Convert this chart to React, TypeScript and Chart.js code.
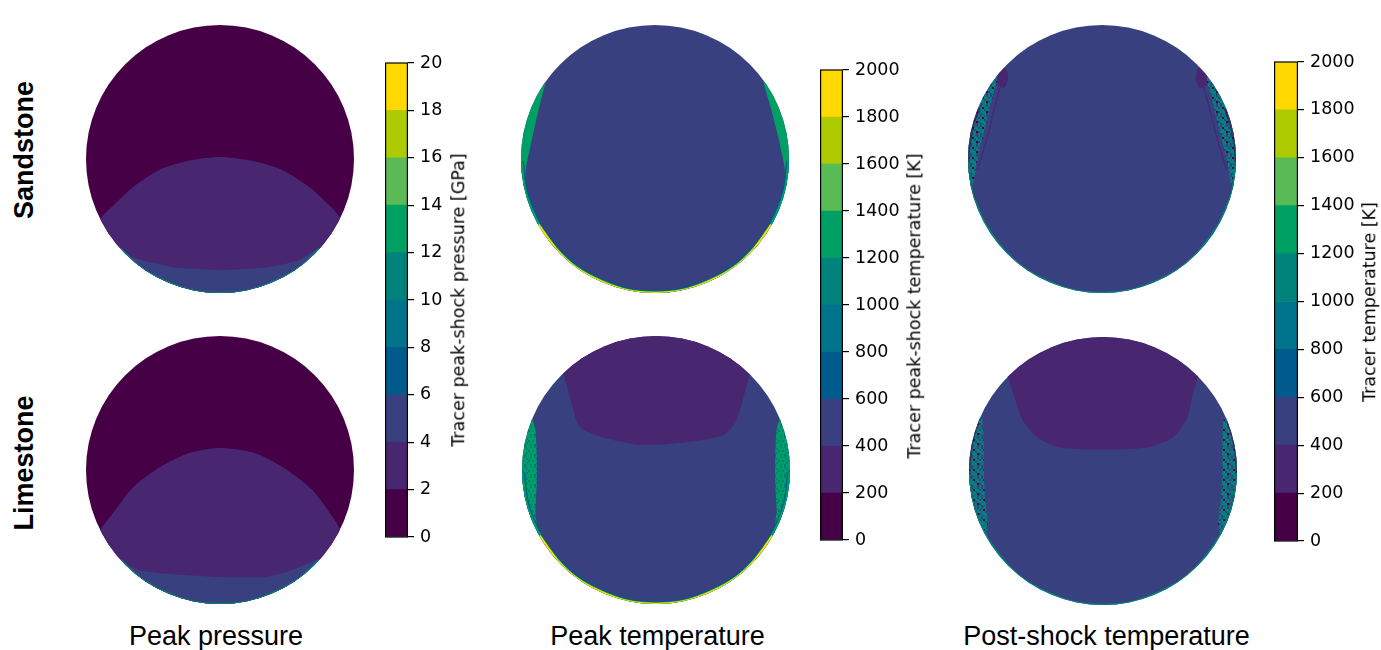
import React, { useEffect, useRef } from 'react';
import { Chart, registerables } from 'chart.js';

Chart.register(...registerables);

type Pt = [number, number];

// ---------- colour levels (discrete viridis as in the figure) ----------
const levelColors = ['#460046', '#482670', '#384080', '#005a8c', '#00748a', '#00837a', '#00a064', '#5abb56', '#aeca00', '#ffd900'];
const pressureLevels = [0, 2, 4, 6, 8, 10, 12, 14, 16, 18, 20];
const temperatureLevels = [0, 200, 400, 600, 800, 1000, 1200, 1400, 1600, 1800, 2000];

const rowLabels = ['Sandstone', 'Limestone'];
const columnTitles = ['Peak pressure', 'Peak temperature', 'Post-shock temperature'];
const colorbarLabels = ['Tracer peak-shock pressure [GPa]', 'Tracer peak-shock temperature [K]', 'Tracer temperature [K]'];

// ---------- region boundaries (normalised disk coords, radius = 1) ----------
const fullDomain: Pt[] = [[-1.2, -1.2], [-1.2, 1.2], [1.2, 1.2], [1.2, -1.2]];
const lowerArc: Pt[] = [[-1, -0.02], [-0.98, -0.2], [-0.95, -0.31], [-0.87, -0.49], [-0.74, -0.67], [-0.59, -0.81], [-0.41, -0.91], [-0.21, -0.98], [0, -1], [0.21, -0.98], [0.41, -0.91], [0.59, -0.81], [0.74, -0.67], [0.87, -0.49], [0.95, -0.31], [0.98, -0.2], [1, -0.02]];
const bottomArc: Pt[] = [[-0.87, -0.49], [-0.74, -0.67], [-0.59, -0.81], [-0.41, -0.91], [-0.21, -0.98], [0, -1], [0.21, -0.98], [0.41, -0.91], [0.59, -0.81], [0.74, -0.67], [0.87, -0.49]];
const pressureRim: Pt[] = [[-0.74, -0.67], [-0.59, -0.81], [-0.41, -0.91], [-0.21, -0.98], [0, -1], [0.21, -0.98], [0.41, -0.91], [0.59, -0.81], [0.74, -0.67]];

// Peak pressure – sandstone
const ssPressureDome: Pt[] = [[-0.95, -0.55], [-0.88, -0.43], [-0.82, -0.37], [-0.65, -0.21], [-0.45, -0.08], [-0.22, -0.01], [0, 0.015], [0.22, -0.01], [0.46, -0.08], [0.68, -0.22], [0.84, -0.37], [0.89, -0.43], [0.95, -0.55], [0.95, -1.1], [-0.95, -1.1]];
const ssPressureBand: Pt[] = [[-0.8, -0.7], [-0.72, -0.71], [-0.6, -0.75], [-0.48, -0.78], [-0.35, -0.81], [-0.15, -0.82], [0, -0.83], [0.2, -0.82], [0.35, -0.81], [0.5, -0.78], [0.6, -0.75], [0.76, -0.65], [0.85, -0.6], [0.85, -1.1], [-0.8, -1.1]];
// Peak pressure – limestone
const lsPressureDome: Pt[] = [[-0.95, -0.55], [-0.88, -0.425], [-0.82, -0.35], [-0.65, -0.13], [-0.45, 0.02], [-0.22, 0.13], [0, 0.165], [0.25, 0.13], [0.47, 0.02], [0.69, -0.15], [0.84, -0.35], [0.89, -0.43], [0.95, -0.55], [0.95, -1.1], [-0.95, -1.1]];
const lsPressureBand: Pt[] = [[-0.8, -0.68], [-0.72, -0.7], [-0.6, -0.75], [-0.45, -0.77], [-0.32, -0.78], [0, -0.8], [0.35, -0.8], [0.5, -0.76], [0.6, -0.72], [0.75, -0.66], [0.85, -0.6], [0.85, -1.1], [-0.8, -1.1]];

// Peak temperature – sandstone
const ssPeakTempLeft: Pt[] = [[-0.8, 0.65], [-0.817, 0.571], [-0.87, 0.36], [-0.92, 0.14], [-0.96, -0.05], [-0.985, -0.2], [-1.1, -0.2], [-1.1, 0.65]];
const ssPeakTempRight: Pt[] = [[0.8, 0.65], [0.81, 0.571], [0.87, 0.36], [0.925, 0.14], [0.965, -0.05], [0.985, -0.2], [1.1, -0.2], [1.1, 0.65]];
// Peak temperature – limestone
const lsPeakTempTop: Pt[] = [[-0.72, 0.75], [-0.69, 0.71], [-0.63, 0.5], [-0.57, 0.32], [-0.42, 0.25], [-0.14, 0.19], [0.16, 0.2], [0.5, 0.26], [0.6, 0.37], [0.7, 0.71], [0.73, 0.75], [0.73, 1.1], [-0.72, 1.1]];
const lsPeakTempLeft: Pt[] = [[-0.95, 0.42], [-0.93, 0.4], [-0.9, 0.3], [-0.89, 0.1], [-0.89, -0.1], [-0.9, -0.3], [-0.9, -0.44], [-1.1, -0.44], [-1.1, 0.42]];
const lsPeakTempRight: Pt[] = [[0.95, 0.42], [0.93, 0.4], [0.9, 0.3], [0.89, 0.1], [0.89, -0.1], [0.9, -0.3], [0.9, -0.44], [1.1, -0.44], [1.1, 0.42]];

// Post-shock temperature – sandstone
const ssPostLeft: Pt[] = [[-0.74, 0.7], [-0.76, 0.64], [-0.81, 0.49], [-0.87, 0.24], [-0.93, 0], [-0.985, -0.25], [-1.1, -0.25], [-1.1, 0.7]];
const ssPostRight: Pt[] = [[0.74, 0.7], [0.76, 0.64], [0.81, 0.49], [0.87, 0.24], [0.93, 0], [0.985, -0.25], [1.1, -0.25], [1.1, 0.7]];
const ssPostLeftEdge: Pt[] = [[-0.74, 0.6], [-0.77, 0.5], [-0.81, 0.35], [-0.86, 0.15], [-0.93, -0.08]];
const ssPostRightEdge: Pt[] = [[0.74, 0.6], [0.77, 0.5], [0.81, 0.35], [0.86, 0.15], [0.93, -0.08]];
const ssPostLeftBlob: Pt[] = [[-0.79, 0.68], [-0.72, 0.68], [-0.7, 0.6], [-0.73, 0.53], [-0.78, 0.55]];
const ssPostRightBlob: Pt[] = [[0.79, 0.68], [0.72, 0.68], [0.7, 0.6], [0.73, 0.53], [0.78, 0.55]];
const ssPostSideSpeckleL: Pt[] = [[-0.92, 0.38], [-0.97, 0.22], [-1, 0], [-0.98, -0.2], [-0.95, -0.31]];
const ssPostSideSpeckleR: Pt[] = [[0.92, 0.38], [0.97, 0.22], [1, 0], [0.98, -0.2], [0.95, -0.31]];
// Post-shock temperature – limestone
const lsPostTop: Pt[] = [[-0.73, 0.75], [-0.71, 0.7], [-0.66, 0.55], [-0.6, 0.38], [-0.49, 0.25], [-0.32, 0.175], [0, 0.16], [0.33, 0.175], [0.52, 0.25], [0.63, 0.4], [0.67, 0.58], [0.71, 0.7], [0.73, 0.75], [0.73, 1.1], [-0.73, 1.1]];
const lsPostLeft: Pt[] = [[-0.93, 0.42], [-0.9, 0.38], [-0.89, 0.2], [-0.89, 0], [-0.88, -0.2], [-0.86, -0.42], [-0.9, -0.5], [-1.1, -0.5], [-1.1, 0.42]];
const lsPostRight: Pt[] = [[0.93, 0.42], [0.9, 0.38], [0.89, 0.2], [0.89, 0], [0.88, -0.2], [0.86, -0.42], [0.9, -0.5], [1.1, -0.5], [1.1, 0.42]];
const lsPostSideSpeckleL: Pt[] = [[-0.93, 0.4], [-0.98, 0.2], [-1, 0], [-0.98, -0.2], [-0.93, -0.38]];
const lsPostSideSpeckleR: Pt[] = [[0.93, 0.4], [0.98, 0.2], [1, 0], [0.98, -0.2], [0.93, -0.38]];

// ---------- helpers ----------
type Paint = string | 'speckleTeal' | 'speckleGreen';
type Layer = { pts: Pt[]; color: Paint; kind: 'fill' | 'line'; width?: number; tension?: number };
const fillL = (pts: Pt[], level: number, tension = 0.25): Layer => ({ pts, color: levelColors[level], kind: 'fill', tension });
const fillP = (pts: Pt[], paint: Paint, tension = 0.25): Layer => ({ pts, color: paint, kind: 'fill', tension });
const lineL = (pts: Pt[], color: string, width: number): Layer => ({ pts, color, kind: 'line', width, tension: 0.3 });

// fixed mottled textures for the noisy tracer fields near the rim
const speckleTiles: Record<string, number[][]> = {
  speckleTeal: [
    [5, 2, 5, 4, 2],
    [2, 5, 0, 5, 5],
    [5, 4, 5, 2, 5],
    [2, 5, 5, 5, 0],
    [5, 2, 4, 5, 2],
  ],
  speckleGreen: [
    [6, 5, 6, 6, 5],
    [6, 6, 5, 6, 6],
    [5, 6, 6, 4, 6],
    [6, 6, 5, 6, 6],
    [6, 4, 6, 6, 5],
  ],
};
function makePattern(name: string, ctx: CanvasRenderingContext2D): CanvasPattern | string {
  const tile = speckleTiles[name];
  const c = document.createElement('canvas');
  const cell = 2;
  c.width = tile[0].length * cell;
  c.height = tile.length * cell;
  const g = c.getContext('2d') as CanvasRenderingContext2D;
  tile.forEach((row, j) => row.forEach((lv, i) => {
    g.fillStyle = levelColors[lv];
    g.fillRect(i * cell, j * cell, cell, cell);
  }));
  return ctx.createPattern(c, 'repeat') || levelColors[5];
}

const peakTempRims: Layer[] = [
  lineL(lowerArc, levelColors[3], 6),
  lineL(lowerArc, levelColors[6], 3.5),
  lineL(bottomArc, levelColors[9], 2.6),
];

const panels: { cx: number; cy: number; layers: Layer[] }[] = [
  { cx: 220, cy: 159, layers: [fillL(fullDomain, 0, 0), fillL(ssPressureDome, 1), fillL(ssPressureBand, 2, 0), lineL(pressureRim, levelColors[5], 2)] },
  { cx: 654.5, cy: 158.5, layers: [fillL(fullDomain, 2, 0), fillL(ssPeakTempLeft, 6), fillL(ssPeakTempRight, 6), ...peakTempRims] },
  { cx: 1102, cy: 159, layers: [fillL(fullDomain, 2, 0), fillP(ssPostLeft, 'speckleTeal'), fillP(ssPostRight, 'speckleTeal'), lineL(ssPostSideSpeckleL, 'rgba(70,0,70,0.5)', 3), lineL(ssPostSideSpeckleR, 'rgba(70,0,70,0.5)', 3), lineL(ssPostLeftEdge, levelColors[1], 1.2), lineL(ssPostRightEdge, levelColors[1], 1.2), fillL(ssPostLeftBlob, 1), fillL(ssPostRightBlob, 1), lineL(lowerArc, levelColors[5], 2.5)] },
  { cx: 220, cy: 470, layers: [fillL(fullDomain, 0, 0), fillL(lsPressureDome, 1), fillL(lsPressureBand, 2, 0), lineL(pressureRim, levelColors[5], 2)] },
  { cx: 656, cy: 470, layers: [fillL(fullDomain, 2, 0), fillL(lsPeakTempTop, 1), fillP(lsPeakTempLeft, 'speckleGreen'), fillP(lsPeakTempRight, 'speckleGreen'), ...peakTempRims] },
  { cx: 1103, cy: 470.5, layers: [fillL(fullDomain, 2, 0), fillL(lsPostTop, 1), fillP(lsPostLeft, 'speckleTeal'), fillP(lsPostRight, 'speckleTeal'), lineL(lsPostSideSpeckleL, 'rgba(70,0,70,0.5)', 3), lineL(lsPostSideSpeckleR, 'rgba(70,0,70,0.5)', 3), lineL(lowerArc, levelColors[5], 2.5)] },
];

const colorbars = [
  { left: 385, top: 63, w: 23, h: 474, levels: pressureLevels, label: colorbarLabels[0], lx: 459, ly: 300 },
  { left: 820, top: 70, w: 23, h: 470, levels: temperatureLevels, label: colorbarLabels[1], lx: 915, ly: 306 },
  { left: 1274, top: 62, w: 24, h: 479, levels: temperatureLevels, label: colorbarLabels[2], lx: 1370, ly: 302 },
];

const R = 134;
const TICK_FONT = "'DejaVu Sans', sans-serif";
const TITLE_FONT = "'Liberation Sans', Arial, sans-serif";

// clip the plot to the disk described by the scales
const diskClip = {
  id: 'diskClip',
  beforeDatasetsDraw(chart: any) {
    const { ctx, scales } = chart;
    const x = scales.x, y = scales.y;
    const cx = x.getPixelForValue(0), cy = y.getPixelForValue(0);
    const rx = Math.abs(x.getPixelForValue(1) - cx), ry = Math.abs(y.getPixelForValue(1) - cy);
    ctx.save();
    ctx.beginPath();
    ctx.ellipse(cx, cy, rx, ry, 0, 0, Math.PI * 2);
    ctx.clip();
  },
  afterDatasetsDraw(chart: any) {
    chart.ctx.restore();
  },
};

const barFrame = {
  id: 'barFrame',
  afterDatasetsDraw(chart: any) {
    const { ctx, chartArea: a } = chart;
    ctx.save();
    ctx.strokeStyle = '#000';
    ctx.lineWidth = 1.2;
    ctx.strokeRect(a.left + 0.6, a.top, a.right - a.left - 1.2, a.bottom - a.top);
    ctx.restore();
  },
};

function Disk({ cx, cy, layers }: { cx: number; cy: number; layers: Layer[] }) {
  const ref = useRef<HTMLCanvasElement>(null);
  useEffect(() => {
    const canvas = ref.current as HTMLCanvasElement;
    const ctx = canvas.getContext('2d') as CanvasRenderingContext2D;
    const paint = (p: Paint) => (speckleTiles[p] ? makePattern(p, ctx) : p);
    const n = layers.length;
    const chart = new Chart(canvas, {
      type: 'line',
      data: {
        datasets: layers.map((l, i) => ({
          data: l.pts.map(([x, y]) => ({ x, y })),
          order: n - i,
          fill: l.kind === 'fill' ? 'shape' : false,
          backgroundColor: paint(l.color),
          borderColor: l.kind === 'line' ? l.color : 'rgba(0,0,0,0)',
          borderWidth: l.kind === 'line' ? l.width : 0,
          pointRadius: 0,
          tension: l.tension ?? 0.25,
        })) as any,
      },
      options: {
        animation: false,
        responsive: false,
        events: [],
        layout: { padding: 0 },
        scales: {
          x: { type: 'linear', min: -1, max: 1, display: false },
          y: { type: 'linear', min: -1, max: 1, display: false },
        },
        plugins: { legend: { display: false }, tooltip: { enabled: false } },
      } as any,
      plugins: [diskClip],
    });
    return () => chart.destroy();
  }, []);
  const size = 2 * R;
  return (
    <canvas
      ref={ref}
      width={size}
      height={size}
      style={{ position: 'absolute', left: cx - R, top: cy - R, width: size, height: size }}
    />
  );
}

function Colorbar({ left, top, w, h, levels }: { left: number; top: number; w: number; h: number; levels: number[] }) {
  const ref = useRef<HTMLCanvasElement>(null);
  const axisW = 70;
  const pad = 14;
  useEffect(() => {
    const chart = new Chart(ref.current as HTMLCanvasElement, {
      type: 'bar',
      data: {
        labels: [''],
        datasets: levels.slice(1).map((v, i) => ({
          data: [v - levels[i]],
          backgroundColor: levelColors[i],
          borderWidth: 0,
          barPercentage: 1,
          categoryPercentage: 1,
        })),
      },
      options: {
        animation: false,
        responsive: false,
        events: [],
        layout: { padding: { top: pad, bottom: pad, left: 0, right: 0 } },
        scales: {
          x: { display: false, stacked: true },
          y: {
            stacked: true,
            position: 'right',
            min: levels[0],
            max: levels[levels.length - 1],
            afterFit: (s: any) => {
              s.width = axisW;
              s.paddingTop = 0;
              s.paddingBottom = 0;
            },
            ticks: {
              stepSize: levels[1] - levels[0],
              color: '#000',
              font: { family: TICK_FONT, size: 17.5 },
              padding: 6,
              callback: (v: any) => String(v),
            },
            grid: { drawOnChartArea: false, drawTicks: true, tickLength: 6, color: '#000', lineWidth: 1.2 },
            border: { display: false },
          },
        },
        plugins: { legend: { display: false }, tooltip: { enabled: false } },
      } as any,
      plugins: [barFrame],
    });
    return () => chart.destroy();
  }, []);
  return (
    <canvas
      ref={ref}
      width={w + axisW}
      height={h + 2 * pad}
      style={{ position: 'absolute', left, top: top - pad, width: w + axisW, height: h + 2 * pad }}
    />
  );
}

function Rotated({ x, y, text, font, weight, size }: { x: number; y: number; text: string; font: string; weight: number; size: number }) {
  return (
    <div
      style={{
        position: 'absolute',
        left: x,
        top: y,
        transform: 'translate(-50%, -50%) rotate(-90deg)',
        whiteSpace: 'nowrap',
        fontFamily: font,
        fontWeight: weight,
        fontSize: size,
        lineHeight: `${size}px`,
        color: '#000',
      }}
    >
      {text}
    </div>
  );
}

export default function App() {
  const titleX = [216, 657.5, 1106.5];
  const rowY = [150, 463];
  return (
    <div style={{ position: 'fixed', left: 0, top: 0, width: 1381, height: 650, background: '#fff', overflow: 'hidden' }}>
      {panels.map((p, i) => (
        <Disk key={i} cx={p.cx} cy={p.cy} layers={p.layers} />
      ))}
      {colorbars.map((c, i) => (
        <Colorbar key={i} left={c.left} top={c.top} w={c.w} h={c.h} levels={c.levels} />
      ))}
      {colorbars.map((c, i) => (
        <Rotated key={'l' + i} x={c.lx} y={c.ly} text={c.label} font={TICK_FONT} weight={400} size={17.5} />
      ))}
      {rowLabels.map((t, i) => (
        <Rotated key={'r' + i} x={23.5} y={rowY[i]} text={t} font={TITLE_FONT} weight={700} size={27} />
      ))}
      {columnTitles.map((t, i) => (
        <div
          key={'c' + i}
          style={{
            position: 'absolute',
            left: titleX[i],
            top: 623,
            transform: 'translateX(-50%)',
            whiteSpace: 'nowrap',
            fontFamily: TITLE_FONT,
            fontSize: 27,
            lineHeight: '27px',
            color: '#000',
          }}
        >
          {t}
        </div>
      ))}
    </div>
  );
}
